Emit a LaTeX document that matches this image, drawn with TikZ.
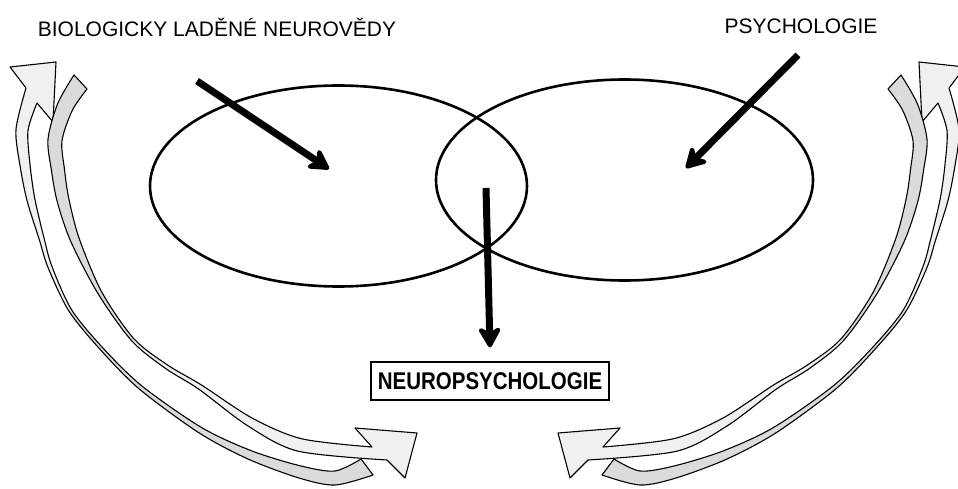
\documentclass[tikz,border=0pt]{standalone}
\usepackage{fontspec}
\setmainfont{Liberation Sans}
\usepackage{graphicx}
\usepackage{tikz}
\usetikzlibrary{positioning, arrows.meta, shapes.geometric}

% ribbon arrows of the left side (the right side is a mirror copy)
\newcommand{\ribbonA}{plot[smooth] coordinates {(373,475) (335,485) (299,478) (248,459) (198.5,432.5) (138.7,388.5) (98.8,347.9) (68.7,310.7) (48.1,267.7) (39.6,240.6) (27.1,200.8) (20,165.5) (16,129.4) (26,88)}
    -- (10,67) -- (56,62) -- (53,122) -- (37,103)
    -- plot[smooth] coordinates {(37,103) (28,130.6) (30,164.5) (34.9,199.2) (44.4,239.4) (51.9,266.3) (71.3,309.3) (101.2,346.1) (141.3,385.5) (201.5,427.5) (252,451) (301,466) (335,471) (361,459)} -- cycle}
\newcommand{\ribbonB}{plot[smooth] coordinates {(74,75) (57.6,103.8) (48,139.3) (51.5,170.6) (57.2,201.5) (70.8,241.5) (98.2,293.9) (131.8,340.9) (165.8,368.6) (198.7,389.1) (248,426) (298.2,451.2) (387,460)}
    -- (405,478) -- (417,433) -- (355,428) -- (372,447)
    -- plot[smooth] coordinates {(372,447) (301.8,438.8) (252,418) (201.3,384.9) (168.2,365.4) (134.2,339.1) (101.8,292.1) (79.2,238.5) (68.8,198.5) (64.5,169.4) (62,140.7) (72.4,110.2) (87,89)} -- cycle}

\begin{document}
\begin{tikzpicture}[x=1pt, y=-1pt,
    field/.style={draw, ellipse, line width=2.6pt, minimum width=377pt, minimum height=201pt, inner sep=0pt},
    headtext/.style={inner sep=0pt, font=\fontsize{21}{24}\selectfont},
    bigarr/.style={line width=7pt, -{Stealth[length=25pt, width=28pt, inset=8pt, round]}},
    ribbonfront/.style={fill=gray!12},
    ribbonback/.style={fill=gray!28},
    ribbonline/.style={draw, line width=1.1pt, line join=round}
]
    \useasboundingbox (0,0) rectangle (958,489);

    % the two fields
    \node[field] (neuro) at (338.5,186) {};
    \node[field] (psych) at (624.5,180) {};

    % titles
    \node[headtext] (bio) at (217,27) {BIOLOGICKY LADĚNÉ NEUROVĚDY};
    \node[headtext] (psy) at (801,26) {PSYCHOLOGIE};
    \node[draw, line width=1.2pt, minimum width=238pt, minimum height=38pt,
        font=\bfseries\fontsize{20.5}{22}\selectfont] (neuropsy) at (490,381) {\scalebox{1}[1.18]{NEUROPSYCHOLOGIE}};

    % straight arrows
    \coordinate (bioStart) at (197,81);
    \coordinate (bioEnd) at (329,169);
    \coordinate (psyStart) at (798,55);
    \coordinate (psyEnd) at (686,168);
    \coordinate (overlap) at (486,188);
    \draw[bigarr] (bioStart) -- (bioEnd);
    \draw[bigarr] (psyStart) -- (psyEnd);
    \draw[bigarr] (overlap) -- ([yshift=14pt]neuropsy.north);

    % curved ribbon arrows, left and mirrored right
    \foreach \sx/\dx in {1/0, -1/975} {
        \begin{scope}[shift={(\dx,0)}, xscale=\sx]
            \fill[ribbonback] \ribbonA;
            \begin{scope}
                \clip (-60,375) -- (290,200) -- (290,-60) -- (-60,-60) -- cycle;
                \fill[ribbonfront] \ribbonA;
            \end{scope}
            \draw[ribbonline] \ribbonA;
            \fill[ribbonback] \ribbonB;
            \begin{scope}
                \clip (-60,474) -- (440,127) -- (440,540) -- (-60,540) -- cycle;
                \fill[ribbonfront] \ribbonB;
            \end{scope}
            \draw[ribbonline] \ribbonB;
        \end{scope}
    }
\end{tikzpicture}
\end{document}
